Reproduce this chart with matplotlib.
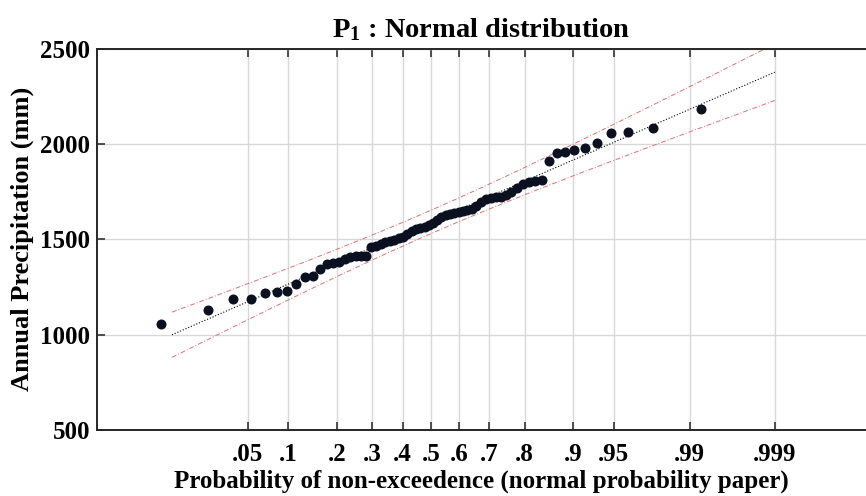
import matplotlib
matplotlib.use("Agg")
import matplotlib.pyplot as plt
import numpy as np
from statistics import NormalDist

# annual precipitation (mm), sorted
precip = np.array([1055, 1128, 1185, 1188, 1216, 1225, 1228, 1268, 1303, 1310,
                   1345, 1368, 1378, 1382, 1395, 1405, 1410, 1412, 1415, 1458,
                   1463, 1473, 1485, 1490, 1498, 1505, 1512, 1528, 1542, 1552,
                   1558, 1566, 1575, 1583, 1600, 1618, 1628, 1634, 1640, 1645,
                   1650, 1653, 1660, 1676, 1697, 1712, 1716, 1720, 1723, 1730,
                   1750, 1768, 1792, 1800, 1808, 1810, 1912, 1955, 1957, 1968,
                   1980, 2003, 2060, 2065, 2082, 2183])

prob_ticks = [0.05, 0.1, 0.2, 0.3, 0.4, 0.5, 0.6, 0.7, 0.8, 0.9, 0.95, 0.99, 0.999]
prob_labels = ['.05', '.1', '.2', '.3', '.4', '.5', '.6', '.7', '.8', '.9', '.95', '.99', '.999']
y_ticks = [500, 1000, 1500, 2000, 2500]

nd = NormalDist()
n = len(precip)
pp = (np.arange(1, n + 1) - 0.5) / n
z_pts = np.array([nd.inv_cdf(p) for p in pp])

mu = precip.mean()
sigma = precip.std(ddof=1)
z_line = np.linspace(nd.inv_cdf(0.01), nd.inv_cdf(0.999), 200)
fit = mu + sigma * z_line
half = 1.96 * sigma * np.sqrt(1.0 / n + z_line ** 2 / (2 * (n - 1)))

plt.rcParams['font.family'] = 'Liberation Serif'
plt.rcParams['font.weight'] = 'bold'
plt.rcParams['mathtext.fontset'] = 'custom'
plt.rcParams['mathtext.rm'] = 'Liberation Serif:bold'
plt.rcParams['mathtext.it'] = 'Liberation Serif:bold'
plt.rcParams['mathtext.bf'] = 'Liberation Serif:bold'

fig = plt.figure(figsize=(8.66, 4.96), dpi=100)
ax = fig.add_axes([0.112, 0.133, 0.888, 0.769])

ax.grid(True, color='#d8d8d8', linewidth=1.0, zorder=0)
ax.set_axisbelow(True)

ax.plot(z_line, fit, linestyle=':', color='black', linewidth=0.8, zorder=2)
ax.plot(z_line, fit + half, linestyle=(0, (5, 2, 1, 2)), color='#e07070', linewidth=0.7, zorder=2)
ax.plot(z_line, fit - half, linestyle=(0, (5, 2, 1, 2)), color='#e07070', linewidth=0.7, zorder=2)
ax.plot(z_pts, precip, 'o', color='#0b1020', markersize=6.2, zorder=3)

ax.set_xticks([nd.inv_cdf(p) for p in prob_ticks])
ax.set_xticklabels(prob_labels)
ax.set_yticks(y_ticks)
ax.set_xlim(-3.0, 3.91)
ax.set_ylim(500, 2500)

ax.tick_params(axis='both', direction='in', length=6, width=1.2, labelsize=18,
               color='#333333', top=True, right=False)
ax.tick_params(axis='x', pad=9)
ax.tick_params(axis='y', pad=5)
for s in ['left', 'top', 'bottom']:
    ax.spines[s].set_linewidth(1.4)
    ax.spines[s].set_color('#262626')
ax.spines['right'].set_visible(False)

ax.set_title(r'$\mathrm{P}_1$ : Normal distribution', fontsize=20.5, fontweight='bold', pad=8)
ax.set_xlabel('Probability of non-exceedence (normal probability paper)', fontsize=18,
              fontweight='bold', labelpad=3)
ax.set_ylabel('Annual Precipitation (mm)', fontsize=19, fontweight='bold', labelpad=4)

fig.savefig('out.png', dpi=100)
